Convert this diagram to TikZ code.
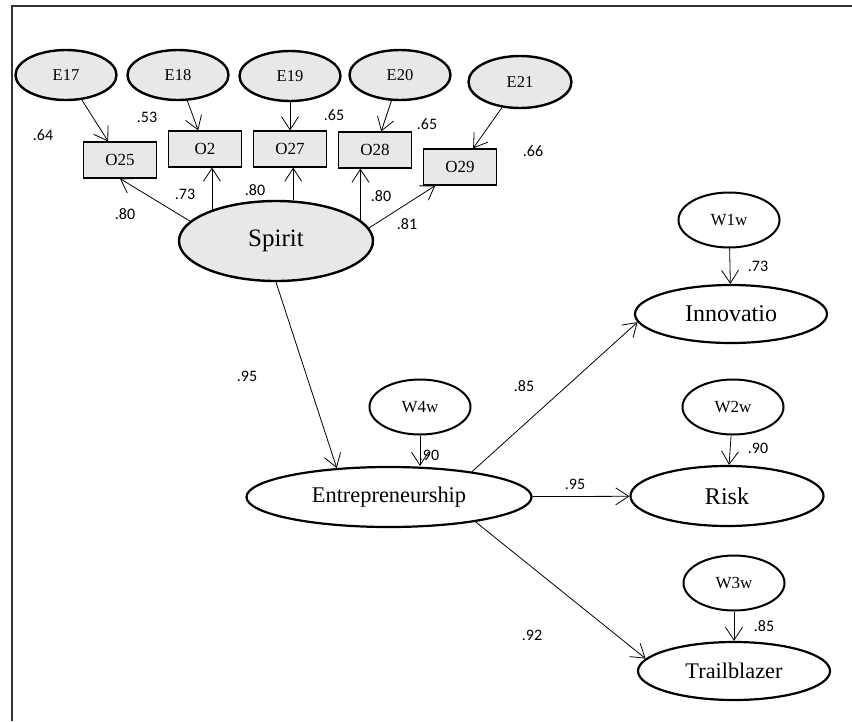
\documentclass[tikz,border=0pt]{standalone}
\usepackage{fontspec}
\setmainfont{Liberation Serif}
\newfontfamily\numfont{Carlito}
\usetikzlibrary{positioning, shapes.geometric, arrows.meta}

\begin{document}
\begin{tikzpicture}[
    x=1pt, y=-1pt,
    err/.style={ellipse, draw, line width=2.4pt, fill=gray!18, minimum width=101pt, minimum height=50pt, inner sep=0pt, font=\fontsize{16.5}{16.5}\selectfont},
    obs/.style={rectangle, draw, line width=1.2pt, fill=gray!18, minimum width=73pt, minimum height=36pt, inner sep=0pt, font=\fontsize{17}{17}\selectfont},
    latent/.style={ellipse, draw, line width=2.2pt, minimum height=60pt, inner sep=0pt, font=\fontsize{24}{24}\selectfont},
    resid/.style={ellipse, draw, line width=2pt, minimum width=101pt, minimum height=55pt, inner sep=0pt, font=\fontsize{17}{17}\selectfont},
    num/.style={font=\numfont\fontsize{16}{16}\selectfont, inner sep=0pt},
    arr/.style={-{Straight Barb[length=13pt, width=17pt]}, line width=0.8pt}
]
\useasboundingbox (0,0) rectangle (852,721);

% frame
\draw[line width=1.8pt, black!80] (12,721) -- (12,6) -- (852,6);

% error terms
\node[err] (E17) at (66,75) {E17};
\node[err] (E18) at (178,75) {E18};
\node[err] (E19) at (290,76) {E19};
\node[err] (E20) at (400,75) {E20};
\node[err, minimum width=103pt, minimum height=52pt] (E21) at (520,82) {E21};

% items
\node[obs] (O25) at (120,160) {O25};
\node[obs] (O2) at (205,149) {O2};
\node[obs] (O27) at (290,149) {O27};
\node[obs] (O28) at (375,150) {O28};
\node[obs] (O29) at (460,167) {O29};

% latent variables
\node[latent, fill=gray!18, minimum width=194pt, minimum height=80pt, line width=2.4pt, font=\fontsize{25}{25}\selectfont] (Spirit) at (276,241) {Spirit};
\node[latent, minimum width=285pt, font=\fontsize{22.4}{22.4}\selectfont] (Entr) at (389,497) {Entrepreneurship};
\node[latent, minimum width=192pt, minimum height=58pt] (Innov) at (731,314) {Innovatio};
\node[latent, minimum width=193pt] (Risk) at (727,496) {Risk};
\node[latent, minimum width=192pt, minimum height=58pt, font=\fontsize{22.3}{22.3}\selectfont] (Trail) at (734,671) {Trailblazer};

% residuals
\node[resid] (W1w) at (729,220) {W1w};
\node[resid] (W2w) at (733,407) {W2w};
\node[resid] (W3w) at (734,583) {W3w};
\node[resid] (W4w) at (420,407) {W4w};

% arrows
\draw[arr] (E17) -- (O25);
\draw[arr] (E18) -- (O2);
\draw[arr] (E19) -- (O27);
\draw[arr] (E20) -- (O28);
\draw[arr] (E21) -- (O29);
\draw[arr] (Spirit.167) -- (O25.south);
\draw[arr] (Spirit.154) -- (Spirit.154 |- O2.south);
\draw[arr] (Spirit.67) -- (Spirit.67 |- O27.south);
\draw[arr] (Spirit.14) -- (Spirit.14 |- O28.south);
\draw[arr] (Spirit.8) -- (O29.217);
\draw[arr] (Spirit.south) -- (Entr.151);
\draw[arr] (W4w.south) -- (W4w.south |- Entr.north);
\draw[arr] (Entr.17) -- (Innov.185);
\draw[arr] (Entr) -- (Risk);
\draw[arr] (Entr.-16) -- (Trail.172);
\draw[arr] (W1w) -- (Innov);
\draw[arr] (W2w) -- (Risk);
\draw[arr] (W3w) -- (Trail);

% estimates
\node[num] (l64) at (43,135) {.64};
\node[num] (l53) at (147,117) {.53};
\node[num] (l65a) at (334,115) {.65};
\node[num] (l65b) at (427,124) {.65};
\node[num] (l66) at (533,151) {.66};
\node[num] (l80a) at (125,214) {.80};
\node[num] (l73a) at (185,194) {.73};
\node[num] (l80b) at (255,190) {.80};
\node[num] (l80c) at (381,196) {.80};
\node[num] (l81) at (407,224) {.81};
\node[num] (l95a) at (247,376) {.95};
\node[num] (l85a) at (524,386) {.85};
\node[num] (l90a) at (429,455) {.90};
\node[num] (l95b) at (575,484) {.95};
\node[num] (l92) at (532,635) {.92};
\node[num] (l73b) at (758,266) {.73};
\node[num] (l90b) at (758,448) {.90};
\node[num] (l85b) at (764,626) {.85};

\end{tikzpicture}
\end{document}
